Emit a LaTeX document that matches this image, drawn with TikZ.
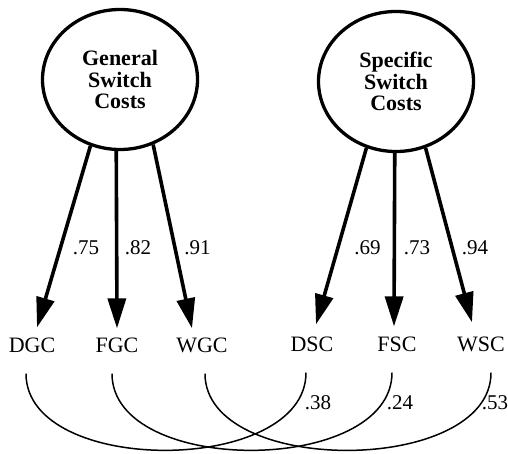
\documentclass[tikz,border=0pt]{standalone}
\usepackage{fontspec}
\setmainfont{Liberation Serif}
\usetikzlibrary{arrows.meta,shapes.geometric,calc}
\begin{document}
\begin{tikzpicture}[x=1pt,y=-1pt,
  latent/.style={ellipse, draw, line width=3.3pt, minimum width=155pt, minimum height=140pt,
    inner sep=0pt, align=center, font=\fontsize{22}{21.5}\selectfont\bfseries},
  obs/.style={inner sep=0pt, font=\fontsize{22}{24}\selectfont},
  load/.style={line width=3.6pt, -{Triangle[length=30pt,width=18pt]}},
  corr/.style={line width=1.5pt},
  coef/.style={inner sep=0pt, font=\fontsize{21}{24}\selectfont}]
\useasboundingbox (0,0) rectangle (508,453);

\node[latent] (G) at (120,79.5) {General\\Switch\\Costs};
\node[latent] (S) at (396,81.5) {Specific\\Switch\\Costs};

\node[obs] (DGC) at (32,345) {DGC};
\node[obs] (FGC) at (117,345) {FGC};
\node[obs] (WGC) at (202,345) {WGC};
\node[obs] (DSC) at (312,344) {DSC};
\node[obs] (FSC) at (397,344) {FSC};
\node[obs] (WSC) at (481,344) {WSC};

\draw[load] (G.246) -- ($(DGC.north)+(5,-10)$);
\draw[load] (G.267) -- ($(FGC.north)+(0,-9)$);
\draw[load] (G.297) -- ($(WGC.north)+(-10,-9)$);
\draw[load] (S.246) -- ($(DSC.north)+(4,-12)$);
\draw[load] (S.269) -- ($(FSC.north)+(-3,-10)$);
\draw[load] (S.294) -- ($(WSC.north)+(-9,-14)$);

\node[coef] (l1) at (86,248) {.75};
\node[coef] (l2) at (138,248) {.82};
\node[coef] (l3) at (197.5,248) {.91};
\node[coef] (l4) at (367.5,248) {.69};
\node[coef] (l5) at (417,248) {.73};
\node[coef] (l6) at (475,248) {.94};

\draw[corr] ($(DGC.south)+(-6,21)$) .. controls +(0,103) and +(0,103) .. ($(DSC.south)+(-6,21)$);
\draw[corr] ($(FGC.south)+(-5,21)$) .. controls +(0,103) and +(0,103) .. ($(FSC.south)+(-5,21)$);
\draw[corr] ($(WGC.south)+(3,21)$) .. controls +(0,103) and +(0,103) .. ($(WSC.south)+(10,21)$);

\node[coef] (r1) at (318,403) {.38};
\node[coef] (r2) at (400,403) {.24};
\node[coef] (r3) at (495,403) {.53};
\end{tikzpicture}
\end{document}
